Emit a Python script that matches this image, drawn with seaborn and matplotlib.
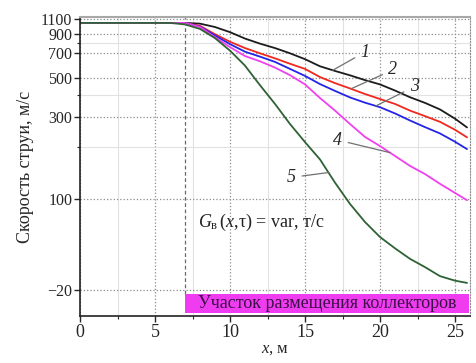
import numpy as np
import pandas as pd
import matplotlib.pyplot as plt
import seaborn as sns
from matplotlib.patches import Rectangle

# x, m
x = [0, 2, 4, 6, 7, 8, 9, 10, 11, 12, 13, 14, 15, 16, 17, 18, 19, 20, 21, 22, 23, 24, 25, 25.8]
# jet velocity, m/s (curves 1..5)
v1 = [1040, 1040, 1040, 1040, 1040, 1030, 985, 920, 845, 790, 745, 695, 643, 585, 550, 519, 487, 460, 424, 388, 360, 330, 292, 260]
v2 = [1040, 1040, 1040, 1040, 1040, 1000, 895, 810, 745, 695, 650, 605, 565, 507, 468, 436, 405, 379, 355, 325, 302, 280, 252, 228]
v3 = [1040, 1040, 1040, 1040, 1040, 990, 880, 785, 710, 665, 620, 565, 515, 462, 422, 387, 361, 340, 313, 285, 261, 240, 215, 195]
v4 = [1040, 1040, 1040, 1040, 1040, 985, 860, 755, 670, 625, 575, 520, 460, 384, 325, 272, 229, 203, 178, 156, 140, 123, 109, 99]
v5 = [1040, 1040, 1040, 1040, 1020, 960, 850, 720, 590, 455, 355, 272, 214, 170, 125, 94, 70, 50, 35, 21, 10, -2, -8, -11]
curves = ["1", "2", "3", "4", "5"]
colors = ["#1c1c1c", "#f0281e", "#2424e6", "#f040f0", "#2e6234"]

yticks = [-20, 100, 300, 500, 700, 900, 1100]
ytick_labels = ["\u221220", "100", "300", "500", "700", "900", "1100"]
yminor = [200, 400, 800]

# curve label positions (text) and where the leader touches the curve
lab_text = [(19.0, 707), (20.85, 557), (22.27, 446), (17.18, 220), (14.11, 134)]
lab_curve = [(16.85, 555), (18.07, 434), (19.73, 346), (20.67, 186), (16.6, 143)]

df = pd.DataFrame({
    "x": x * 5,
    "v": v1 + v2 + v3 + v4 + v5,
    "curve": sum([[c] * len(x) for c in curves], []),
})

sns.set_style("white")
plt.rcParams["font.family"] = ["Liberation Serif", "DejaVu Serif"]
plt.rcParams["mathtext.fontset"] = "custom"
plt.rcParams["mathtext.rm"] = "Liberation Serif"
plt.rcParams["mathtext.it"] = "Liberation Serif:italic"

fig, ax = plt.subplots(figsize=(4.76, 3.63), dpi=100)
fig.subplots_adjust(left=80/476, right=470/476, bottom=1-316/363, top=1-17/363)

sns.lineplot(data=df, x="x", y="v", hue="curve", palette=colors, linewidth=1.3,
             legend=False, ax=ax, sort=False)

ax.set_yscale("symlog", linthresh=100, linscale=0.39)
ax.set_ylim(-55, 1125)
ax.set_xlim(0, 26)
ax.set_yticks(yticks)
ax.set_yticklabels(ytick_labels)
ax.set_yticks(yminor, minor=True)
ax.set_xticks([0, 5, 10, 15, 20, 25])
ax.set_xticks(np.arange(2.5, 26, 5), minor=True)

ax.grid(which="major", linestyle=":", color="#8c8c8c", linewidth=0.9)
ax.grid(which="minor", linestyle="-", color="#e2e2e2", linewidth=0.8)
ax.tick_params(which="major", direction="out", length=4, width=1, labelsize=13, pad=2)
ax.tick_params(axis="y", which="major", labelsize=11.5, pad=1.5)
ax.tick_params(which="minor", direction="out", length=2.5, width=0.8)
ax.tick_params(axis="both", which="both", left=True, bottom=True)

for s in ["left", "bottom"]:
    ax.spines[s].set_color("#222222")
    ax.spines[s].set_linewidth(1.2)
ax.spines["top"].set_color("#a8a8a8")
ax.spines["top"].set_linewidth(1.5)
ax.spines["right"].set_color("#8c8c8c")
ax.spines["right"].set_linestyle(":")

ax.set_ylabel("Скорость струи, м/с", fontsize=13, labelpad=5)
ax.set_xlabel(r"$x$, м", fontsize=12, labelpad=0)

# collector zone
ax.axvline(7, ymin=0.074, color="#6a6a6a", linestyle=(0, (3, 2)), linewidth=0.9)
ax.add_patch(Rectangle((7, 0.01), 18.9, 0.064, transform=ax.get_xaxis_transform(),
                       facecolor="#f03cf0", edgecolor="none", zorder=3))
ax.text(16.45, 0.043, "Участок размещения коллекторов", transform=ax.get_xaxis_transform(),
        ha="center", va="center", fontsize=13, color="#3a1046", zorder=4)

ax.text(7.87, 70, r"$G_{\mathrm{в}}\,(x$,τ) = var, т/с", ha="left", va="center", fontsize=13,
        color="#222222")

for c, t, p in zip(curves, lab_text, lab_curve):
    ax.annotate(c, xy=p, xytext=t, ha="center", va="center", fontsize=13, style="italic",
                arrowprops=dict(arrowstyle="-", color="#707070", lw=0.9, shrinkA=2, shrinkB=0))

plt.savefig("out.png", dpi=100)
